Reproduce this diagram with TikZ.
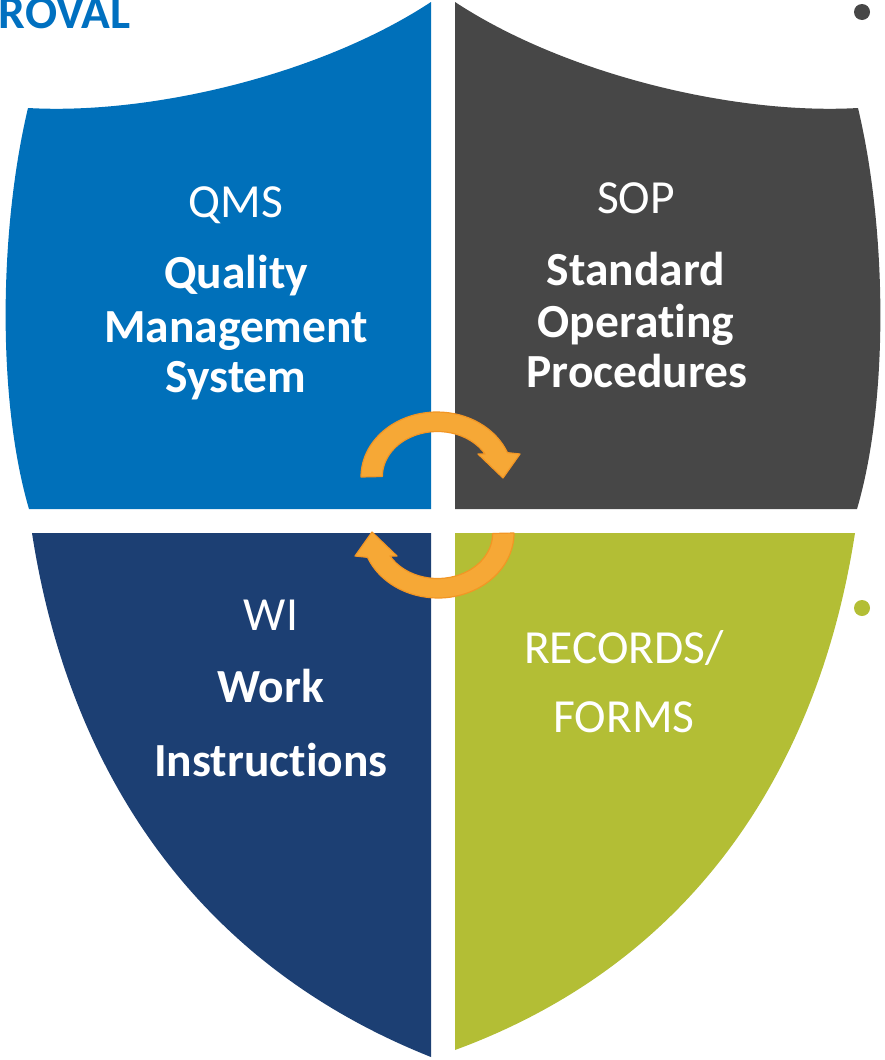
\documentclass[tikz,border=0pt]{standalone}
\usepackage{fontspec}
\setmainfont{Carlito}[Ligatures=NoCommon]
\definecolor{qmsblue}{RGB}{0,112,186}
\definecolor{sopgray}{RGB}{71,71,71}
\definecolor{winavy}{RGB}{28,63,115}
\definecolor{recgreen}{RGB}{179,190,53}
\definecolor{cyclefill}{RGB}{246,168,54}
\definecolor{cycleline}{RGB}{242,150,36}
\definecolor{titleblue}{RGB}{0,112,192}
\tikzset{
  partname/.style={text=white, inner sep=0pt, font=\fontsize{47.5}{52}\selectfont},
  partbold/.style={text=white, inner sep=0pt, font=\fontsize{47.5}{52}\selectfont\bfseries},
  cyclearrow/.style={fill=cyclefill, draw=cycleline, line width=1.2pt, line join=round}
}
\begin{document}
\begin{tikzpicture}[x=1pt, y=-1pt]
    \useasboundingbox (0,0) rectangle (884,1060);
    % Shield quarters
    \fill[qmsblue] (28,108) .. controls (150,115) and (320,75) .. (431,2) -- (431,509) -- (29,509) .. controls (-3,400) and (-1,230) .. (28,108) -- cycle;
    \fill[sopgray] (858,108) .. controls (736,115) and (566,75) .. (455,2) -- (455,509) -- (857,509) .. controls (889,400) and (887,230) .. (858,108) -- cycle;
    \fill[winavy] (32,533) -- (431,533) -- (431,1057) .. controls (187,960) and (67,760) .. (32,533) -- cycle;
    \fill[recgreen] (455,533) -- (855,533) .. controls (820,760) and (700,960) .. (455,1050) -- cycle;
    % Cycle arrows
    \foreach \turn in {0,180}
        \filldraw[cyclearrow, rotate around={\turn:(437.5,505)}] (361,477) arc[start angle=180, end angle=338, x radius=76, y radius=65] -- (520,454) -- (503,478) -- (478,454) -- (485,454) arc[start angle=330, end angle=180, x radius=55, y radius=45] -- cycle;
    % Labels
    \node[partname, anchor=base] (qms) at (236,217) {QMS};
    \node[partbold, anchor=base] (qmsa) at (236,288) {Quality};
    \node[partbold, anchor=base] (qmsb) at (236,342) {Management};
    \node[partbold, anchor=base] (qmsc) at (236,392) {System};
    \node[partname, anchor=base] (sop) at (636,213) {SOP};
    \node[partbold, anchor=base] (sopa) at (636,285) {Standard};
    \node[partbold, anchor=base] (sopb) at (636,337) {Operating};
    \node[partbold, anchor=base] (sopc) at (637,387) {Procedures};
    \node[partname, anchor=base] (wi) at (271,630) {WI};
    \node[partbold, anchor=base] (wia) at (271,702) {Work};
    \node[partbold, anchor=base] (wib) at (271,776) {Instructions};
    \node[partname, anchor=base] (rec) at (624,663) {RECORDS/};
    \node[partname, anchor=base] (reca) at (624,732) {FORMS};
    % Cut off title and bullets
    \node[inner sep=0pt, anchor=base east, text=titleblue, font=\fontsize{47.5}{52}\selectfont\bfseries] (approval) at (131,28) {ROVAL};
    \fill[sopgray] (862,12) circle[radius=8];
    \fill[recgreen] (862,608) circle[radius=8];
\end{tikzpicture}
\end{document}
